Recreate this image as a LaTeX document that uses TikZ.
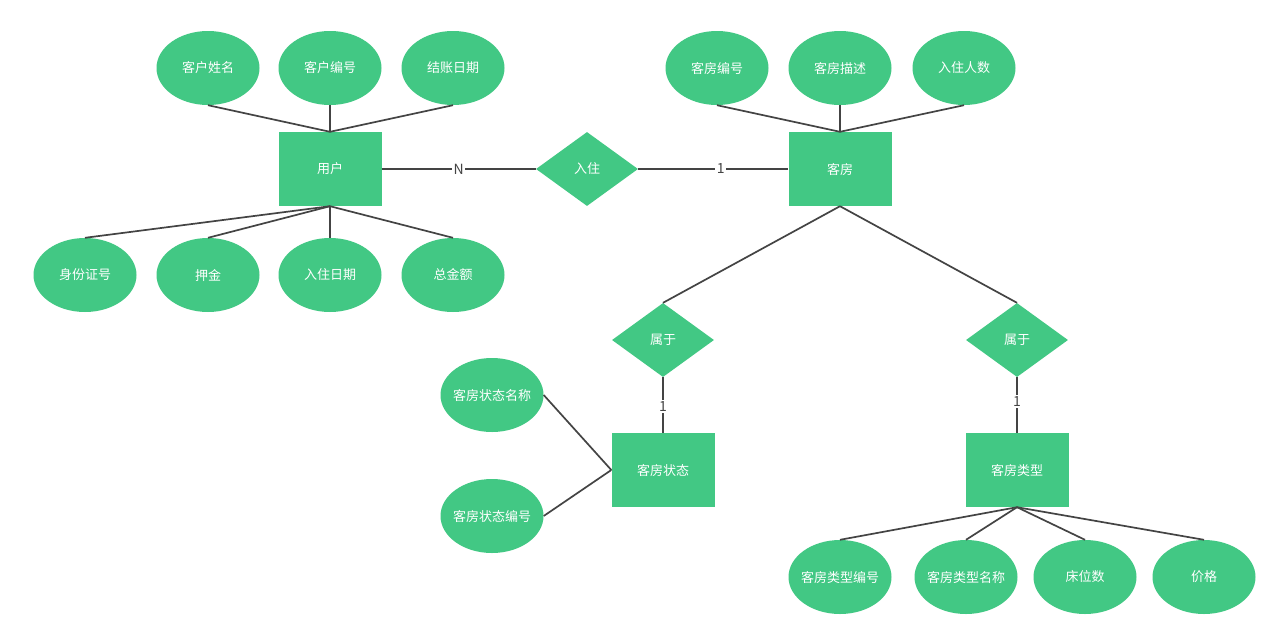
\documentclass[tikz,border=0pt]{standalone}
\usepackage{fontspec}
\setmainfont{Noto Sans CJK SC}
\usetikzlibrary{shapes.geometric}
\definecolor{erg}{RGB}{66,200,132}
\definecolor{erline}{RGB}{68,68,68}
\newcommand{\zw}[1]{\makebox[0pt][c]{#1}}
\tikzset{
  ent/.style={rectangle,fill=erg,minimum width=103pt,minimum height=74pt,inner sep=0pt,text=white,font=\fontsize{13}{15}\selectfont},
  rel/.style={diamond,fill=erg,minimum width=102pt,minimum height=74pt,inner sep=0pt,aspect=1.38,text=white,font=\fontsize{13}{15}\selectfont},
  attr/.style={ellipse,fill=erg,minimum width=103pt,minimum height=74pt,inner sep=0pt,text=white,font=\fontsize{13}{15}\selectfont},
  conn/.style={draw=erline,line width=1.7pt},
  card/.style={fill=white,inner sep=1.5pt,text=erline,font=\fontsize{14}{16}\selectfont}
}
\begin{document}
\begin{tikzpicture}[x=1pt,y=-1pt]
\useasboundingbox[fill=white] (0,0) rectangle (1278,641);
% entities
\node[ent] (user) at (330,169) {用户};
\node[rel] (live) at (587,169) {入住};
\node[ent] (room) at (840,169) {客房};
\node[rel] (bel1) at (663,340) {属于};
\node[rel] (bel2) at (1017,340) {属于};
\node[ent] (rstat) at (663,470) {客房状态};
\node[ent] (rtype) at (1017,470) {客房类型};
% user attributes
\node[attr] (a1) at (208,68) {\zw{客户姓名}};
\node[attr] (a2) at (330,68) {\zw{客户编号}};
\node[attr] (a3) at (453,68) {\zw{结账日期}};
\node[attr] (b1) at (85,275) {\zw{身份证号}};
\node[attr] (b2) at (208,275) {\zw{押金}};
\node[attr] (b3) at (330,275) {\zw{入住日期}};
\node[attr] (b4) at (453,275) {\zw{总金额}};
% room attributes
\node[attr] (c1) at (717,68) {\zw{客房编号}};
\node[attr] (c2) at (840,68) {\zw{客房描述}};
\node[attr] (c3) at (964,68) {\zw{入住人数}};
% status attributes
\node[attr] (d1) at (492,395) {\zw{客房状态名称}};
\node[attr] (d2) at (492,516) {\zw{客房状态编号}};
% type attributes
\node[attr] (e1) at (840,577) {\zw{客房类型编号}};
\node[attr] (e2) at (966,577) {\zw{客房类型名称}};
\node[attr] (e3) at (1085,577) {\zw{床位数}};
\node[attr] (e4) at (1204,577) {\zw{价格}};
% connectors
\foreach \a in {a1,a2,a3} \draw[conn] (\a.south) -- (user.north);
\foreach \a in {b1,b2,b3,b4} \draw[conn] (user.south) -- (\a.north);
\foreach \a in {c1,c2,c3} \draw[conn] (\a.south) -- (room.north);
\draw[conn] (d1.east) -- (rstat.west);
\draw[conn] (d2.east) -- (rstat.west);
\foreach \a in {e1,e2,e3,e4} \draw[conn] (rtype.south) -- (\a.north);
\draw[conn] (room.south) -- (bel1.north);
\draw[conn] (room.south) -- (bel2.north);
\draw[conn] (user.east) -- node[card] {N} (live.west);
\draw[conn] (live.east) -- node[card,pos=0.55] {1} (room.west);
\draw[conn] (bel1.south) -- node[card,pos=0.53] {1} (rstat.north);
\draw[conn] (bel2.south) -- node[card,pos=0.43] {1} (rtype.north);
\end{tikzpicture}
\end{document}
